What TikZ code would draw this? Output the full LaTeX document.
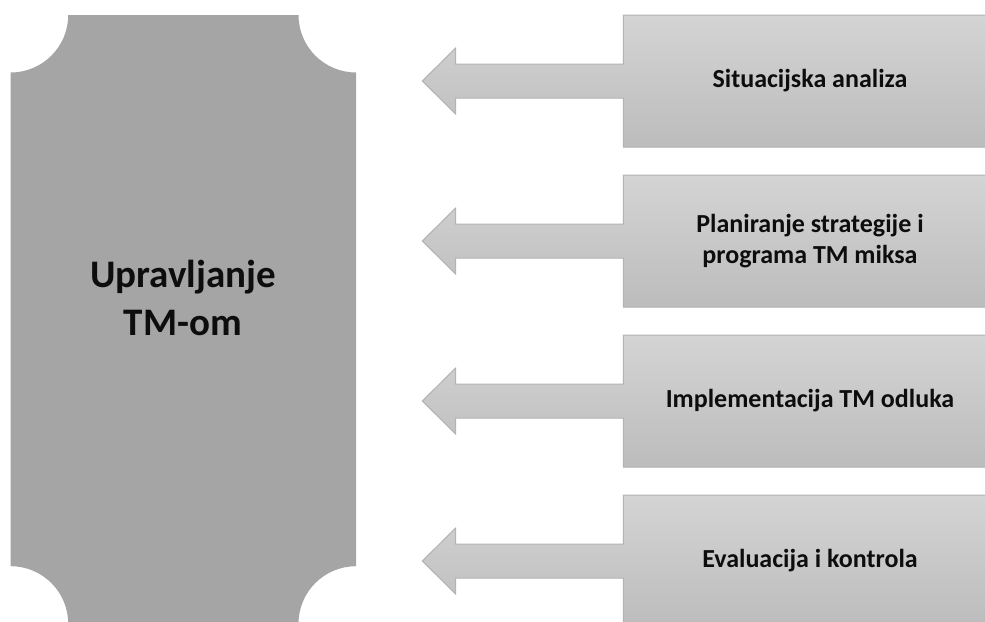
\documentclass[tikz,border=0pt]{standalone}
\usepackage{fontspec}
\setmainfont{Carlito}
\begin{document}
\begin{tikzpicture}[x=1pt,y=1pt,
  mainshape/.style={fill=mainfill, draw=none},
  calloutshape/.style={draw=boxline, line width=1pt, top color=boxtop, bottom color=boxbot, line join=miter},
  boxlabel/.style={font=\bfseries\fontsize{26}{30.5}\selectfont, text=txt, align=center, inner sep=0pt},
  mainlabel/.style={font=\bfseries\fontsize{39}{48}\selectfont, text=txt, align=center, inner sep=0pt}]
\definecolor{mainfill}{HTML}{A5A5A5}
\definecolor{boxtop}{HTML}{D4D4D4}
\definecolor{boxbot}{HTML}{BCBCBC}
\definecolor{boxline}{HTML}{B3B3B3}
\definecolor{txt}{HTML}{0D0D0D}
\useasboundingbox (0,0) rectangle (985,-621);
\clip (0,0) rectangle (985,-621);
% left shape with concave corners
\path[mainshape] (68.2,-15) -- (298.5,-15)
  arc[start angle=180, end angle=270, radius=57.5]
  -- (356,-566.2)
  arc[start angle=90, end angle=180, radius=57.5]
  -- (68.2,-623.7)
  arc[start angle=0, end angle=90, radius=57.5]
  -- (10.7,-72.5)
  arc[start angle=270, end angle=360, radius=57.5]
  -- cycle;
\node[mainlabel] (main) at (183,-298) {Upravljanje\\TM-om};
% callouts
\foreach \T/\name in {15/c1,175/c2,335/c3,495/c4}{
  \pgfmathsetmacro{\c}{\T+66}
  \path[calloutshape] (623.3,-\T) -- (995,-\T) -- (995,-\T-132) -- (623.3,-\T-132)
    -- (623.3,-\c-17) -- (455.7,-\c-17) -- (455.7,-\c-33) -- (422.3,-\c)
    -- (455.7,-\c+33) -- (455.7,-\c+17) -- (623.3,-\c+17) -- cycle;
}
\node[boxlabel] (t1) at (810,-81) {Situacijska analiza};
\node[boxlabel] (t2) at (810,-241) {Planiranje strategije i\\programa TM miksa};
\node[boxlabel] (t3) at (810,-401) {Implementacija TM odluka};
\node[boxlabel] (t4) at (810,-561) {Evaluacija i kontrola};
\end{tikzpicture}
\end{document}
